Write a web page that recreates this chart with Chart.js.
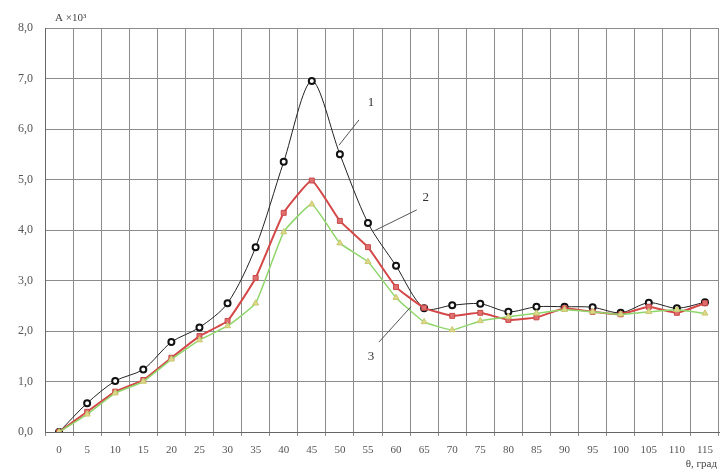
<!DOCTYPE html>
<html>
<head>
<meta charset="utf-8">
<script src="https://cdn.jsdelivr.net/npm/chart.js@4/dist/chart.umd.min.js"></script>
<style>
html,body{margin:0;padding:0;background:#fff;}
#wrap{position:relative;width:725px;height:472px;}
</style>
</head>
<body>
<div id="wrap"><canvas id="c" width="725" height="472"></canvas></div>
<script>
const categories = ['0','5','10','15','20','25','30','35','40','45','50','55','60','65','70','75','80','85','90','95','100','105','110','115'];
const series1 = [0, 0.57, 1.01, 1.24, 1.78, 2.07, 2.55, 3.66, 5.35, 6.95, 5.5, 4.14, 3.29, 2.45, 2.51, 2.54, 2.38, 2.48, 2.48, 2.47, 2.36, 2.56, 2.45, 2.57];
const series2 = [0, 0.40, 0.80, 1.03, 1.47, 1.90, 2.20, 3.05, 4.34, 4.98, 4.18, 3.66, 2.87, 2.46, 2.30, 2.36, 2.22, 2.27, 2.45, 2.38, 2.33, 2.48, 2.36, 2.55];
const series3 = [0, 0.35, 0.77, 1.00, 1.44, 1.82, 2.10, 2.55, 3.96, 4.51, 3.74, 3.37, 2.66, 2.18, 2.02, 2.20, 2.28, 2.35, 2.42, 2.38, 2.33, 2.38, 2.42, 2.35];
const yTicks = [0,1,2,3,4,5,6,7,8];
const yTitle = 'A ×10³';
const xTitle = 'θ, град';
// curve labels: [text, labelIdx, labelY, lineFromIdx, lineFromY, lineToIdx, lineToY] in data units
const curveLabels = [
  ['1', 11.11, 6.53, 10.68, 6.18, 9.97, 5.68],
  ['2', 13.06, 4.65, 12.74, 4.40, 11.21, 3.98],
  ['3', 11.11, 1.49, 11.39, 1.78, 12.53, 2.48]
];

const annot = {
  id: 'annot',
  afterDatasetsDraw(chart) {
    const ctx = chart.ctx, xs = chart.scales.x, ys = chart.scales.y;
    const px = i => xs.getPixelForValue(0) + i * (xs.getPixelForValue(1) - xs.getPixelForValue(0));
    ctx.save();
    ctx.strokeStyle = '#555';
    ctx.lineWidth = 1;
    ctx.fillStyle = '#333';
    ctx.font = '13px "Liberation Serif"';
    ctx.textAlign = 'center';
    ctx.textBaseline = 'middle';
    curveLabels.forEach(a => {
      ctx.beginPath();
      ctx.moveTo(px(a[3]), ys.getPixelForValue(a[4]));
      ctx.lineTo(px(a[5]), ys.getPixelForValue(a[6]));
      ctx.stroke();
      ctx.fillText(a[0], px(a[1]), ys.getPixelForValue(a[2]));
    });
    ctx.font = '11px "Liberation Serif"';
    ctx.fillStyle = '#444';
    ctx.textAlign = 'left';
    ctx.textBaseline = 'alphabetic';
    ctx.fillText(yTitle, chart.chartArea.left + 10, chart.chartArea.top - 7);
    ctx.textAlign = 'right';
    ctx.fillText(xTitle, chart.chartArea.right - 2, chart.chartArea.bottom + 35);
    ctx.restore();
  }
};

new Chart(document.getElementById('c'), {
  type: 'line',
  data: {
    labels: categories,
    datasets: [
      {
        label: '3', data: series3,
        borderColor: '#8fd66a', borderWidth: 1.5, tension: 0.12,
        pointStyle: 'triangle', pointRadius: 3.5,
        pointBackgroundColor: '#dcd98a', pointBorderColor: '#c8c870', pointBorderWidth: 1
      },
      {
        label: '2', data: series2,
        borderColor: '#d44848', borderWidth: 2, tension: 0.12,
        pointStyle: 'rect', pointRadius: 3.5,
        pointBackgroundColor: '#e07070', pointBorderColor: '#c84848', pointBorderWidth: 1
      },
      {
        label: '1', data: series1,
        borderColor: '#222', borderWidth: 1, tension: 0.3,
        pointStyle: 'circle', pointRadius: 3,
        pointBackgroundColor: '#fff', pointBorderColor: '#111', pointBorderWidth: 2
      }
    ]
  },
  options: {
    responsive: false,
    animation: false,
    layout: { padding: { top: 28, right: 4, left: 0, bottom: 0 } },
    plugins: { legend: { display: false }, tooltip: { enabled: false } },
    scales: {
      x: {
        type: 'category',
        offset: true,
        grid: { offset: true, color: '#8c8c8c', lineWidth: 1, tickLength: 4, drawTicks: true },
        border: { color: '#666' },
        ticks: { color: '#555', font: { family: 'Liberation Serif', size: 11 }, padding: 8, maxRotation: 0, autoSkip: false },
        afterFit(s) { s.height = 40; }
      },
      y: {
        min: 0, max: 8,
        afterBuildTicks(s) { s.ticks = yTicks.map(v => ({ value: v })); },
        grid: { color: '#8c8c8c', lineWidth: 1, drawTicks: false },
        border: { color: '#666' },
        ticks: {
          color: '#555', font: { family: 'Liberation Serif', size: 12 }, padding: 12,
          callback: v => Number(v).toFixed(1).replace('.', ',')
        },
        afterFit(s) { s.width = 45; }
      }
    }
  },
  plugins: [annot]
});
</script>
</body>
</html>
